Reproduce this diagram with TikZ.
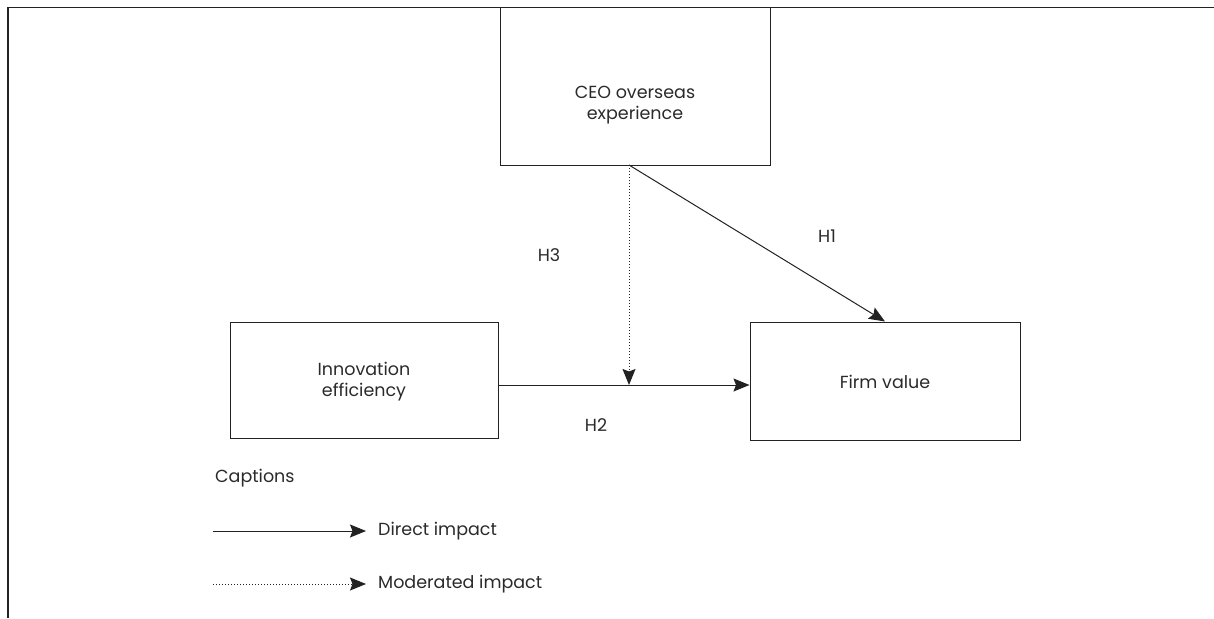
\documentclass[tikz,border=0pt]{standalone}
\usepackage{fontspec}
\setmainfont{Poppins}
\usetikzlibrary{arrows.meta}
\definecolor{ink}{HTML}{222222}
\definecolor{txt}{HTML}{2A2A2A}
\begin{document}
\begin{tikzpicture}[x=1pt,y=-1pt,
  box/.style={draw=ink,line width=1pt,rectangle,inner sep=0pt},
  lbl/.style={text=txt,font=\fontsize{17.5}{21}\selectfont,align=center,inner sep=0pt},
  conn/.style={draw=ink,line width=1pt,-{Stealth[length=16pt,width=13pt,inset=2.5pt]}},
  modconn/.style={conn,dotted}]
\useasboundingbox (0,0) rectangle (1214,618);
% frame (top and left)
\draw[ink,line width=1.5pt] (1214,7.5) -- (8,7.5) -- (8,618);
% boxes
\node[box,minimum width=270pt,minimum height=157pt] (ceo) at (635,86.5) {};
\node[box,minimum width=268pt,minimum height=116pt] (innov) at (364,380) {};
\node[box,minimum width=270pt,minimum height=118pt] (firm) at (885,381) {};
\node[lbl] (ceot) at (635,105) {CEO overseas\\experience};
\node[lbl] (innovt) at (364,382) {Innovation\\efficiency};
\node[lbl] (firmt) at (885,382) {Firm value};
% connectors
\coordinate (src) at (629,165);
\coordinate (a) at (innov.east |- 0,385);
\coordinate (b) at (firm.west |- 0,385);
\coordinate (mod) at (629,385);
\draw[conn] (a) -- (b);
\draw[modconn] (src) -- (mod);
\draw[conn] (src) -- (firm.north);
% hypothesis labels
\node[lbl] (h1) at (827,236) {H1};
\node[lbl] (h2) at (596,425) {H2};
\node[lbl] (h3) at (549,255) {H3};
% captions
\node[lbl,anchor=west] (cap) at (215,478) {Captions};
\coordinate (d1) at (213,531);
\coordinate (d2) at (366,531);
\coordinate (m1) at (213,584);
\coordinate (m2) at (366,584);
\draw[conn] (d1) -- (d2);
\draw[modconn] (m1) -- (m2);
\node[lbl,anchor=west] (dt) at (378,531) {Direct impact};
\node[lbl,anchor=west] (mt) at (378,584) {Moderated impact};
\end{tikzpicture}
\end{document}
